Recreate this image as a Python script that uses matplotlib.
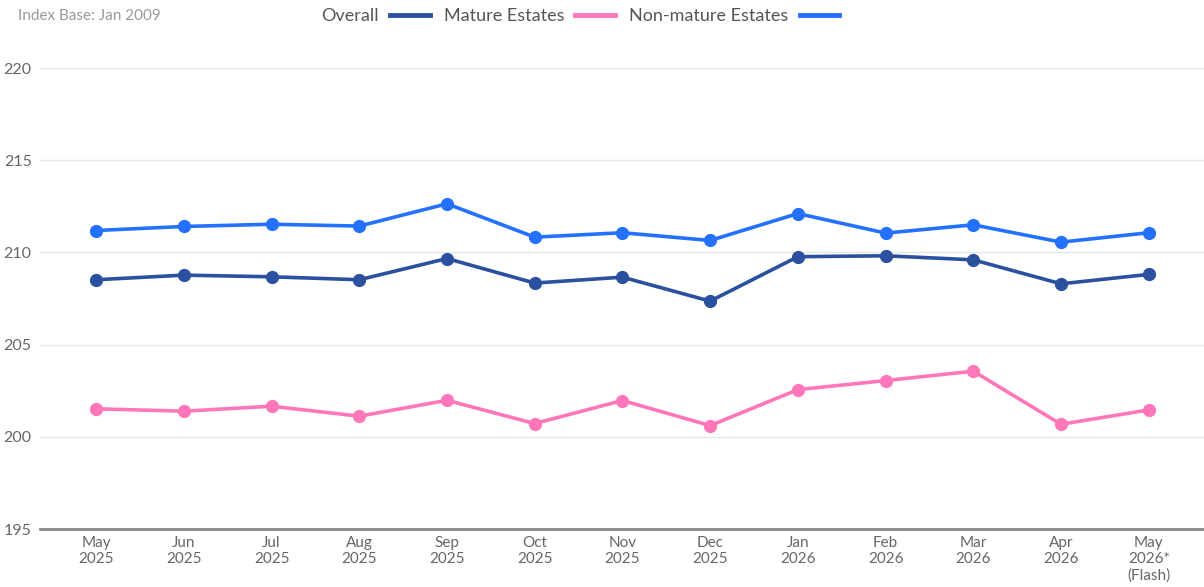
# HDB resale price index, last 13 months
import matplotlib.pyplot as plt

months = ['May\n2025', 'Jun\n2025', 'Jul\n2025', 'Aug\n2025', 'Sep\n2025', 'Oct\n2025',
          'Nov\n2025', 'Dec\n2025', 'Jan\n2026', 'Feb\n2026', 'Mar\n2026', 'Apr\n2026',
          'May\n2026*\n(Flash)']

overall = [208.52, 208.77, 208.68, 208.52, 209.67, 208.34, 208.66, 207.36,
           209.77, 209.82, 209.60, 208.30, 208.81]
mature = [201.52, 201.39, 201.66, 201.12, 201.98, 200.72, 201.97, 200.61,
          202.56, 203.05, 203.56, 200.68, 201.46]
non_mature = [211.19, 211.41, 211.53, 211.43, 212.64, 210.83, 211.07, 210.65,
              212.11, 211.05, 211.50, 210.56, 211.07]

yticks = [195, 200, 205, 210, 215, 220]

plt.rcParams['font.family'] = ['Lato', 'DejaVu Sans']

fig = plt.figure(figsize=(12.04, 5.87), dpi=100)
ax = fig.add_axes([0.0332, 0.0988, 0.9668, 0.7852])

x = range(len(months))
series = [('Overall', overall, '#2b50a0'),
          ('Mature Estates', mature, '#ff77b9'),
          ('Non-mature Estates', non_mature, '#2571ff')]
for name, vals, col in series:
    ax.plot(x, vals, color=col, lw=2.6, marker='o', ms=8.5, label=name,
            solid_capstyle='round', zorder=3)

ax.set_ylim(195, 220)
ax.set_xlim(-0.64, len(months) - 1 + 0.63)
ax.set_yticks(yticks)
ax.set_xticks(list(x))
ax.set_xticklabels(months, linespacing=1.2)
ax.tick_params(axis='x', length=0, pad=5, labelsize=11, labelcolor='#666666')
ax.tick_params(axis='y', length=0, pad=6, labelsize=11.5, labelcolor='#666666')
ax.grid(axis='y', color='#e6e6e6', lw=1)
ax.set_axisbelow(True)
for s in ['top', 'right', 'left']:
    ax.spines[s].set_visible(False)
ax.spines['bottom'].set_color('#888888')
ax.spines['bottom'].set_linewidth(2)

fig.text(0.015, 0.972, 'Index Base: Jan 2009', fontsize=11, color='#999999',
         va='center', ha='left')

handles, labels = ax.get_legend_handles_labels()
handles = [plt.Line2D([], [], color=h.get_color(), lw=3.5) for h in handles]
fig.legend(handles, labels, loc='center', bbox_to_anchor=(0.482, 0.972), ncol=3,
           frameon=False, markerfirst=False, fontsize=13, labelcolor='#555555',
           handlelength=2.2, handletextpad=0.6, columnspacing=0.8)

fig.savefig('out.png', dpi=100)
